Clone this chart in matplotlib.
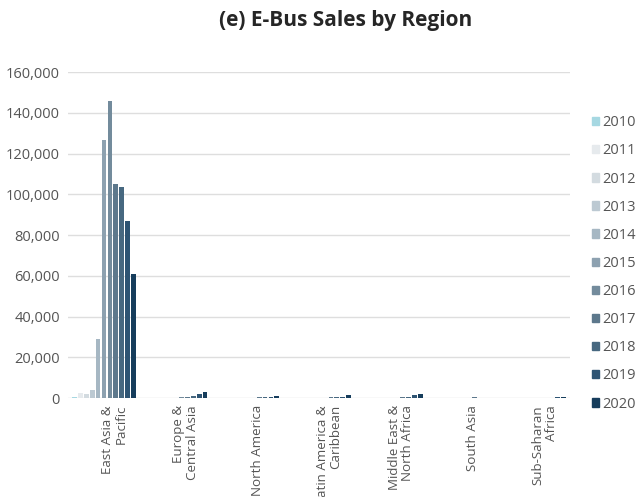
import numpy as np
import matplotlib
matplotlib.use('Agg')
import matplotlib.pyplot as plt
import matplotlib.transforms as mtransforms
from matplotlib.patches import Patch

plt.rcParams['font.family'] = ['Open Sans', 'DejaVu Sans']

regions = ['East Asia &\nPacific', 'Europe &\nCentral Asia', 'North America',
           'Latin America &\nCaribbean', 'Middle East &\nNorth Africa',
           'South Asia', 'Sub-Saharan\nAfrica']
years = ['2010', '2011', '2012', '2013', '2014', '2015',
         '2016', '2017', '2018', '2019', '2020']

# sales per region, one list per year (order follows regions)
sales = {
    '2010': [500, 50, 20, 10, 10, 0, 0],
    '2011': [2500, 60, 30, 20, 20, 10, 0],
    '2012': [2100, 80, 40, 40, 30, 20, 10],
    '2013': [4100, 120, 60, 60, 50, 30, 20],
    '2014': [29200, 180, 100, 100, 80, 150, 30],
    '2015': [126800, 250, 150, 150, 120, 200, 50],
    '2016': [146000, 400, 200, 250, 200, 250, 80],
    '2017': [105300, 600, 300, 350, 300, 300, 150],
    '2018': [103700, 1100, 400, 500, 500, 250, 250],
    '2019': [86900, 2000, 600, 700, 1300, 200, 300],
    '2020': [61000, 2950, 800, 1300, 2100, 150, 350],
}

colors = ['#a6d8e2', '#e6eaed', '#d3dbe0', '#bcc9d2', '#a6b7c3', '#8da1b0',
          '#738b9c', '#5d788c', '#476880', '#2e5473', '#163d5c']

fig = plt.figure(figsize=(6.37, 4.97), dpi=100)
ax = fig.add_axes([0.107, 0.199, 0.788, 0.656])

x = np.arange(len(regions))
pitch = 0.082
for j, yr in enumerate(years):
    ax.bar(x + (j - 5) * pitch, sales[yr], width=0.066, color=colors[j],
           label=yr, zorder=3)

ax.set_xlim(-0.5, len(regions) - 0.5)
ax.set_ylim(0, 160000)
ax.set_yticks(np.arange(0, 160001, 20000))
ax.set_yticklabels([f'{v:,}' for v in range(0, 160001, 20000)])
ax.grid(axis='y', color='#dedede', linewidth=1, zorder=0)
for s in ax.spines.values():
    s.set_visible(False)
ax.tick_params(axis='y', length=0, pad=6, labelsize=10.5, labelcolor='#555555')
ax.tick_params(axis='x', length=0, pad=5, labelsize=9.6, labelcolor='#555555')

ax.set_xticks(x)
ax.set_xticklabels(regions, rotation=90, ha='center', va='top',
                   multialignment='right', linespacing=1.05)
shift = mtransforms.ScaledTranslation(10 / 100, 0, fig.dpi_scale_trans)
for lbl in ax.get_xticklabels():
    lbl.set_transform(lbl.get_transform() + shift)

handles = [Patch(color=c) for c in colors]
fig.legend(handles, years, loc='upper left', bbox_to_anchor=(0.929, 0.768),
           frameon=False, fontsize=10.5, labelcolor='#555555',
           handlelength=0.5, handleheight=0.5, handletextpad=0.2,
           labelspacing=0.9, borderaxespad=0, borderpad=0)

fig.text(0.543, 0.958, '(e) E-Bus Sales by Region', ha='center', va='center',
         fontsize=15, fontweight='bold', color='#262626')

fig.savefig('out.png', dpi=100)
